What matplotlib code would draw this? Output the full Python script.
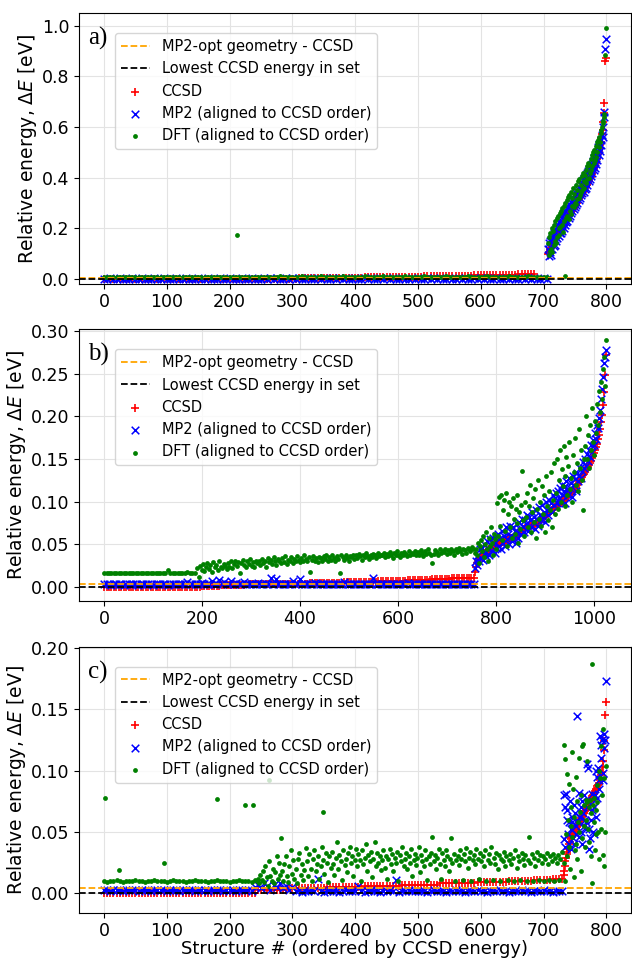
import numpy as np
import matplotlib
matplotlib.use("Agg")
import matplotlib.pyplot as plt

# ---------------- data (meV) ----------------
N_A, N_B, N_C = 800, 1025, 800
MP2OPT = [0.005, 0.004, 0.004]   # eV, "MP2-opt geometry - CCSD"
LOWEST = [0.0, 0.0, 0.0]

# Panel a
a_ccsd_flat = [0,0,0,0,0,0,0,0,0,0,0,0,0,0,0,0,0,0,0,0,0,0,0,0,0,0,0,0,0,0,0,0,0,0,0,0,0,0,0,0,0,0,0,0,0,0,
               1,1,1,1,1,1,1,1,1,1,1,1,1,1,1,1,
               2,2,2,2,2,2,3,3,3,3,3,4,4,4,4,4,5,5,5,5,5,6,6,6,6,6,7,7,7,7,7,8,8,8,8,8,9,9,9,9,
               10,10,10,10,11,11,11,11,12,12,12,12,13,13,13,13,14,14,14,14,15,15,15,15,16,16,16,
               17,17,17,18,18,19,19,20,21]
a_ccsd_tail = [100,104,108,113,118,123,128,133,139,145,150,156,162,167,171,175,179,183,187,191,
               195,199,203,207,211,215,219,223,227,231,236,240,245,249,253,257,261,265,269,273,
               277,281,285,289,293,297,301,306,310,314,318,322,327,331,336,340,345,349,354,358,
               363,367,372,377,382,387,392,398,404,410,416,422,429,436,443,450,458,466,475,485,
               495,505,516,528,541,556,572,590,620,655,695,860,872]
a_mp2_flat = [1,1,2,1,1,2,1,1,1,2,1,1,2,1,1,1,2,1,1,2,1,1,1,2,1,1,2,1,1,1,2,1,1,2,1,1,1,2,1,1,2,1,1,1,2,1,1,2,1,1,1,2,
              0,2,1,3,0,1,2,0,3,1,2,0,1,3,1,0,2,1,3,0,1,2,0,3,1,2,0,1,3,1,0,2,1,3,0,1,2,0,3,1,2,0,1,3,1,
              0,2,1,3,0,1,2,0,3,1,2,0,1,3,1,0,2,1,3,0,1,2,0,3,1,2,0,1,3,1,0,2,1,3,0,1,2,0,3,1,2,0,1,3,1]
a_mp2_tail = [120,90,140,105,150,95,160,118,170,130,180,135,190,150,205,160,215,170,225,180,
              230,180,245,190,255,200,262,215,270,225,280,230,290,240,298,250,305,262,312,270,
              320,275,330,285,340,292,348,300,355,310,365,320,372,330,380,338,392,345,400,355,
              410,360,418,372,428,385,436,395,445,405,455,418,466,430,476,440,488,455,500,470,
              520,490,535,505,550,530,570,560,600,640,660,910,950]
a_dft_flat = [9,8,9,9,8,9,8,9,9,8,9,9,8,9,8,9,9,8,9,9,8,9,8,9,9,8,9,9,8,9,8,9,9,8,9,9,8,9,8,9,9,8,9,9,8,9,8,9,9,8,9,9,
              7,9,6,8,10,7,9,8,6,9,7,10,8,6,9,7,8,10,6,9,8,7,9,6,10,8,7,9,8,6,9,10,7,8,9,6,8,10,7,9,8,6,9,7,10,
              8,6,9,7,8,10,6,9,8,7,9,6,10,8,7,9,8,6,9,10,7,8,9,6,8,10,7,9,8,6,9,7,10,8,6,9,7,8,10,6,9,8,7,9,6]
a_dft_tail = [140,95,165,110,180,120,200,105,190,135,215,150,230,140,240,165,250,175,200,260,
              205,270,215,280,185,290,230,12,300,240,310,250,325,235,330,270,345,255,320,290,
              360,285,335,300,370,295,350,315,385,320,395,330,370,345,405,350,420,360,385,410,
              430,380,445,395,460,400,450,420,475,430,490,445,500,460,510,470,525,480,540,500,
              550,520,560,540,575,590,600,615,625,640,650,885,990]
a_dft_out_idx = [211]
a_dft_out_val = [175]

# Panel b
b_ccsd_flat = [0,0,0,0,0,0,0,0,0,0,0,0,0,0,0,0,0,0,0,0,0,0,0,0,0,0,0,0,0,0,0,0,0,0,0,0,0,0,0,0,
               1,1,1,1,1,1,1,1,2,2,2,2,2,2,2,2,2,2,3,3,3,3,3,3,3,3,3,3,3,3,
               4,4,4,4,4,4,4,4,4,4,4,4,4,4,5,5,5,5,5,5,5,5,5,5,5,5,5,5,
               6,6,6,6,6,6,6,6,6,6,6,6,6,6,7,7,7,7,7,7,7,7,7,7,7,7,
               8,8,8,8,8,8,8,8,8,8,9,9,9,9,9,9,9,9,10,10,10,10,10,10,11,11,11,11]
b_ccsd_tail = [18,24,28,31,33,35,36,37,38,39,40,41,42,43,44,45,46,47,48,49,49,50,
               50,51,51,52,52,53,53,54,54,55,55,56,56,57,57,58,58,59,59,60,60,61,62,63,64,65,66,67,68,69,
               70,70,71,71,72,72,73,73,74,74,75,75,76,77,78,79,80,81,82,83,84,85,86,87,88,89,90,91,92,94,
               95,96,97,97,98,99,100,101,102,103,104,105,106,107,108,109,110,111,112,113,115,117,119,121,123,125,127,129,131,133,
               135,137,139,141,143,145,148,151,154,157,160,164,168,173,178,185,193,202,213,228,248,272]
b_mp2_flat = [3,3,3,2,3,3,3,3,2,3,3,3,3,3,2,3,3,3,3,3,2,3,3,3,3,3,2,3,3,3,3,3,3,3,
              6,3,3,4,3,3,5,3,3,3,7,4,3,8,3,6,3,4,7,3,5,3,3,6,3,4,3,3,3,5,
              3,3,3,4,10,3,9,3,3,4,3,3,3,7,3,3,9,4,3,3,3,3,5,3,3,3,3,4,3,3,
              3,3,3,3,6,3,3,3,3,3,4,3,3,3,3,3,11,3,3,3,3,3,3,4,3,3,3,3,3,3,
              5,3,3,3,3,3,3,3,4,3,3,3,3,3,3,3,3,4,3,3,3,3,3,3,3,3,3,3]
b_mp2_tail = [22,30,26,38,30,44,34,46,32,50,40,36,54,44,38,56,48,42,58,52,40,60,
              46,62,48,58,44,66,52,60,48,70,56,62,50,72,60,54,70,58,66,52,74,64,58,76,68,62,80,70,64,78,
              74,84,66,82,78,70,88,76,82,68,90,80,72,94,84,78,96,82,88,76,100,90,84,102,92,98,88,108,96,104,
              110,98,112,104,116,100,120,108,112,118,98,124,114,108,128,116,122,106,130,120,126,112,134,124,130,140,128,136,146,140,
              150,142,156,148,160,152,166,158,172,166,180,174,190,186,198,208,220,232,246,262,270,278]
b_dft_flat0 = [17,16,17,17,16,17,16,17,17,16,17,17,16,17,16,17,17,16,17,16,17,17,16,17,16,16,20,16,17,16,16,17,16,16,18,16,17,16]
b_dft_band = [22,12,25,20,27,19,24,28,21,26,18,29,23,26,20,30,24,22,27,25,21,
              28,24,30,22,27,31,25,29,17,28,32,26,24,30,27,33,25,29,23,31,28,
              30,26,33,28,31,24,34,29,32,27,35,30,26,33,31,28,34,29,36,27,32,
              31,35,28,33,30,36,32,29,34,31,37,33,30,35,18,32,36,31,34,29,35,
              34,31,36,33,38,30,35,32,37,34,31,36,33,16,38,35,32,37,34,30,36,
              35,38,33,37,34,39,36,32,38,35,40,36,33,38,35,39,37,34,40,36,38,
              37,40,35,39,36,41,38,34,40,37,42,38,35,40,37,41,39,36,42,38,40,
              39,42,37,41,38,43,40,36,42,39,44,40,37,28,39,43,41,38,44,40,42,
              41,44,39,43,40,45,42,38,44,41,46,42,39,45,43,40,46,44,42,47,45]
b_dft_tail = [40,45,38,52,28,48,55,42,60,35,50,65,44,30,58,48,70,52,38,62,56,45,
              98,60,105,72,108,55,90,102,66,110,48,85,100,70,95,58,104,80,62,92,75,108,52,88,68,96,136,78,60,100,
              82,110,70,95,120,65,88,104,76,115,58,92,125,80,100,72,118,86,108,64,130,95,78,112,90,135,70,102,145,85,
              110,150,92,125,160,100,138,118,165,95,130,152,108,142,170,115,128,100,155,135,175,120,145,112,185,140,160,125,90,150,
              165,200,150,178,140,190,160,210,170,155,195,180,215,190,230,205,240,220,255,270,235,290]

# Panel c
c_ccsd_flat = [0,0,0,0,0,0,0,0,0,0,0,0,0,0,0,0,0,0,0,0,0,0,0,0,0,0,0,0,0,0,0,0,0,0,0,0,0,0,0,0,0,0,0,0,0,0,0,0,0,
               3,3,3,3,3,3,3,3,3,3,4,4,4,4,4,4,4,4,4,4,4,4,5,5,5,5,5,5,5,5,5,5,5,5,
               6,6,6,6,6,6,6,6,6,6,6,6,7,7,7,7,7,7,7,7,7,7,7,7,8,8,8,8,8,8,8,8,8,8,8,8,
               9,9,9,9,9,9,9,9,9,9,10,10,10,10,10,10,10,10,11,11,11,11,11,11,12,12,12,12]
c_ccsd_tail = [15,18,22,26,29,32,34,36,38,40,42,44,45,46,47,48,49,50,51,52,53,54,55,56,57,58,59,60,61,62,
               63,64,65,66,67,68,69,70,71,72,73,74,75,76,77,78,79,80,81,82,83,84,85,86,87,88,89,90,
               92,94,96,99,103,108,117,124,145,156]
c_mp2_flat = [3,3,2,3,3,3,2,3,3,3,3,2,3,3,3,2,3,3,3,3,2,3,3,3,2,3,3,3,3,2,3,3,3,2,3,3,3,3,2,3,3,3,2,3,3,3,3,2,
              5,7,4,8,6,3,7,5,8,4,6,3,5,
              2,3,1,2,2,3,2,12,2,1,2,3,2,2,1,2,3,2,2,2,6,2,1,2,3,2,2,1,2,2,
              3,2,11,1,2,2,3,2,2,2,2,2,1,2,3,2,2,2,1,2,2,3,2,2,1,2,2,2,3,2,
              2,1,2,2,2,3,2,2,1,2,2,2,3,2,2,1,2,2,2,3,2,2,1,2,2,2]
c_mp2_tail = [80,44,70,38,81,60,68,48,58,40,75,52,36,62,58,45,72,40,65,55,
              48,60,144,58,46,82,62,70,50,40,75,65,55,80,60,52,58,70,105,102,
              52,36,45,60,73,68,81,50,70,48,80,62,100,95,78,102,85,92,128,121,
              110,125,98,92,118,130,125,173]
c_dft_flat0 = [10,9,10,10,11,10,9,10,10,10,11,10,10,9,10,10,11,10,10,10,9,10,11,10,10,
               10,9,10,10,11,10,10,10,9,10,10,11,10,10,10,9,10,10,11,10,10,10,9,11]
c_dft_band = [10,12,8,15,11,18,9,22,13,6,26,14,10,20,8,17,30,12,25,15,
              18,10,24,30,14,9,22,35,16,27,12,20,8,28,33,15,24,11,19,37,
              26,14,32,20,10,28,35,18,24,30,12,22,38,27,16,33,25,9,30,21,
              34,24,15,29,42,20,31,26,11,35,23,28,17,33,38,25,30,14,27,36,
              22,32,27,10,35,24,29,40,18,31,26,34,13,28,42,22,33,25,30,19,
              27,35,21,30,12,28,36,24,32,18,29,25,34,10,31,26,38,22,28,33,
              20,30,25,36,14,27,32,23,29,38,17,31,26,22,35,28,11,30,24,33,
              46,26,31,20,29,36,24,12,33,27,22,35,30,18,28,45,25,32,10,27,
              30,23,35,28,11,32,26,37,21,29,34,10,27,31,24,36,28,12,33,26,
              30,22,35,10,27,32,25,38,11,29,24,33,20,31,10,28,26,34,22,30,
              11,27,32,24,29,10,35,21,30,26,11,33,28,23,31,10,27,46,25,32,
              10,29,22,34,27,11,31,25,30,10,28,33,24,11,30,26,32,10,29,25,
              31,11,28,34]
c_dft_tail = [25,121,10,109,48,30,97,60,38,89,20,70,55,115,46,85,13,62,35,95,
              40,75,28,58,110,50,66,18,80,45,120,122,72,55,38,76,60,108,74,52,
              70,42,76,65,30,187,8,72,58,78,35,68,48,88,74,50,100,28,94,120,
              52,80,134,31,94,22,50,104]
c_dft_out_idx = [2, 24, 95, 180, 225, 238, 262, 282, 348]
c_dft_out_val = [78, 19, 25, 77, 72, 72, 92, 45, 66]

PANEL_LABELS = ["a)", "b)", "c)"]
YTICKS = [[0.0, 0.2, 0.4, 0.6, 0.8, 1.0],
          [0.0, 0.05, 0.10, 0.15, 0.20, 0.25, 0.30],
          [0.0, 0.05, 0.10, 0.15, 0.20]]
XTICKS = [list(range(0, 801, 100)), list(range(0, 1001, 200)), list(range(0, 801, 100))]

# ---------------- helpers ----------------
def head(vals, step, start=0):
    v = np.asarray(vals, float) / 1000.0
    return start + step * np.arange(len(v)), v

def tail(vals, n, step=1):
    v = np.asarray(vals, float) / 1000.0
    return n - 1 - step * np.arange(len(v))[::-1], v

def cat(*parts):
    return (np.concatenate([p[0] for p in parts]), np.concatenate([p[1] for p in parts]))

def pts(idx, vals):
    return np.asarray(idx, float), np.asarray(vals, float) / 1000.0

panels = [
    dict(n=N_A,
         ccsd=cat(head(a_ccsd_flat, 5), tail(a_ccsd_tail, N_A)),
         mp2=cat(head(a_mp2_flat, 5), tail(a_mp2_tail, N_A)),
         dft=cat(head(a_dft_flat, 5), tail(a_dft_tail, N_A), pts(a_dft_out_idx, a_dft_out_val)),
         ylim=(-0.02, 1.051)),
    dict(n=N_B,
         ccsd=cat(head(b_ccsd_flat, 5), tail(b_ccsd_tail, N_B, 2)),
         mp2=cat(head(b_mp2_flat, 5), tail(b_mp2_tail, N_B, 2)),
         dft=cat(head(b_dft_flat0, 5), head(b_dft_band, 3, 190), tail(b_dft_tail, N_B, 2)),
         ylim=(-0.0164, 0.3023)),
    dict(n=N_C,
         ccsd=cat(head(c_ccsd_flat, 5), tail(c_ccsd_tail, N_C)),
         mp2=cat(head(c_mp2_flat, 5), tail(c_mp2_tail, N_C)),
         dft=cat(head(c_dft_flat0, 5), head(c_dft_band, 2, 243), tail(c_dft_tail, N_C),
                 pts(c_dft_out_idx, c_dft_out_val)),
         ylim=(-0.016, 0.2008)),
]

# ---------------- figure ----------------
fig = plt.figure(figsize=(6.32, 9.61), dpi=100)
boxes = [[0.125, 0.7045, 0.873, 0.282],
         [0.125, 0.3746, 0.873, 0.283],
         [0.125, 0.0500, 0.873, 0.277]]

for i, (p, box) in enumerate(zip(panels, boxes)):
    ax = fig.add_axes(box)
    ax.set_axisbelow(True)
    ax.grid(True, color="#e3e3e3", linewidth=0.8)
    ax.axhline(MP2OPT[i], color="orange", linestyle="--", linewidth=1.3, label="MP2-opt geometry - CCSD")
    ax.axhline(LOWEST[i], color="black", linestyle="--", linewidth=1.3, label="Lowest CCSD energy in set")
    ax.scatter(*p["ccsd"], marker="+", color="red", s=36, linewidths=1.2, label="CCSD")
    ax.scatter(*p["mp2"], marker="x", color="blue", s=30, linewidths=1.1, label="MP2 (aligned to CCSD order)")
    ax.scatter(*p["dft"], marker=".", color="green", s=48, linewidths=0, label="DFT (aligned to CCSD order)")
    n = p["n"]
    ax.set_xlim(-0.05 * (n - 1), 1.05 * (n - 1))
    ax.set_ylim(*p["ylim"])
    ax.set_xticks(XTICKS[i])
    ax.set_yticks(YTICKS[i])
    if i == 0:
        ax.set_yticklabels([f"{t:.1f}" for t in YTICKS[i]])
    else:
        ax.set_yticklabels([f"{t:.2f}" for t in YTICKS[i]])
    ax.tick_params(labelsize=12.5)
    ax.tick_params(axis="x", pad=3)
    ax.set_ylabel(r"Relative energy, $\Delta E$ [eV]", fontsize=13.5, labelpad=2)
    ax.text(0.016, 0.905, PANEL_LABELS[i], transform=ax.transAxes, va="center", ha="left",
            fontsize=18, family="Liberation Serif")
    ax.legend(loc="upper left", bbox_to_anchor=(0.065, 0.925), borderaxespad=0, fontsize=10.5,
              scatterpoints=1, handlelength=2.0)
    if i == 2:
        ax.set_xlabel("Structure # (ordered by CCSD energy)", fontsize=13, labelpad=0)

fig.savefig("out.png", dpi=100)
